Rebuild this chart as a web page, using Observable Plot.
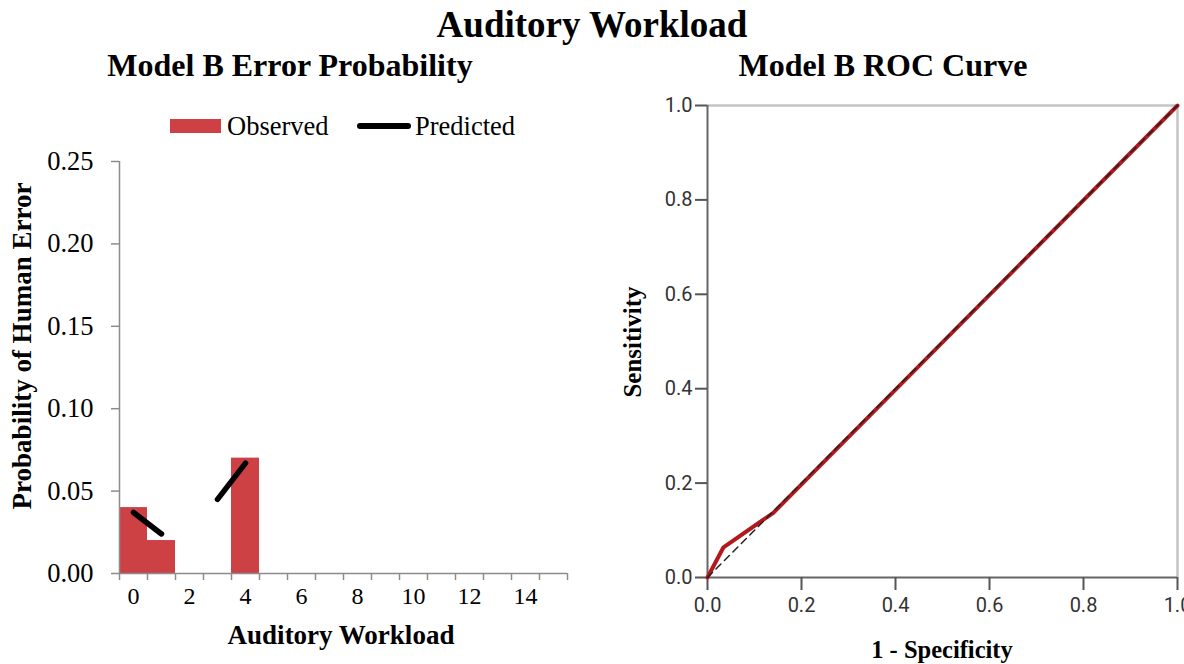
<!DOCTYPE html>
<html>
<head>
<meta charset="utf-8">
<script src="https://cdn.jsdelivr.net/npm/d3@7"></script>
<script src="https://cdn.jsdelivr.net/npm/@observablehq/plot@0.6"></script>
<style>
  html, body { margin: 0; padding: 0; background: #fff; overflow: hidden; }
  #wrap { position: relative; width: 1184px; height: 664px; font-family: "Liberation Serif", serif; color: #000; }
  .abs { position: absolute; white-space: nowrap; }
  .bold { font-weight: bold; }
</style>
</head>
<body>
<div id="wrap">
  <div class="abs bold" style="left:0;width:1184px;text-align:center;top:3px;font-size:37px;line-height:44px;">Auditory Workload</div>
  <div class="abs bold" style="left:90px;width:400px;text-align:center;top:46px;font-size:32px;line-height:38px;">Model B Error Probability</div>
  <div class="abs bold" style="left:683px;width:400px;text-align:center;top:46px;font-size:32px;line-height:38px;">Model B ROC Curve</div>

  <div class="abs" style="left:170px;top:119px;width:51px;height:14px;background:#cd4144;"></div>
  <div class="abs" style="left:227px;top:110px;font-size:26.5px;line-height:32px;">Observed</div>
  <div class="abs" style="left:357px;top:123px;width:54px;height:6px;border-radius:3px;background:#000;"></div>
  <div class="abs" style="left:415px;top:110px;font-size:26.5px;line-height:32px;">Predicted</div>

  <div id="left" class="abs" style="left:0;top:140px;"></div>
  <div id="right" class="abs" style="left:600px;top:80px;"></div>

  <div class="abs bold" style="left:141px;width:400px;text-align:center;top:619px;font-size:27px;line-height:32px;">Auditory Workload</div>
  <div class="abs bold" style="left:22px;top:346px;font-size:27px;line-height:32px;transform:translate(-50%,-50%) rotate(-90deg);">Probability of Human Error</div>

  <div class="abs bold" style="left:742px;width:400px;text-align:center;top:635px;font-size:24.5px;line-height:30px;">1 - Specificity</div>
  <div class="abs bold" style="left:633px;top:342px;font-size:25px;line-height:30px;transform:translate(-50%,-50%) rotate(-90deg);">Sensitivity</div>
</div>
<script>
// ---- Left chart data ----
const workloadCats = d3.range(0, 16);            // x categories 0..15
const xTickLabels = [0, 2, 4, 6, 8, 10, 12, 14];
const yTickValues = [0, 0.05, 0.10, 0.15, 0.20, 0.25];
const observedX = [0, 1, 4];
const observedY = [0.040, 0.020, 0.070];
const predictedX = [0, 1, 3, 4];
const predictedY = [0.037, 0.024, 0.045, 0.067];
const predictedSeg = ["a", "a", "b", "b"];

// ---- Right chart data ----
const rocFpr = [0, 0.034, 0.14, 1];
const rocTpr = [0, 0.064, 0.137, 1];
const refLine = [0, 1];
const rocTicks = [0, 0.2, 0.4, 0.6, 0.8, 1.0];

const observed = observedX.map((x, i) => ({x, y: observedY[i]}));
const predicted = predictedX.map((x, i) => ({x, y: predictedY[i], g: predictedSeg[i]}));
const roc = rocFpr.map((x, i) => ({x, y: rocTpr[i]}));
const ref = refLine.map(v => ({x: v, y: v}));

const halfTicks = [...workloadCats.map(c => c - 0.5), workloadCats[workloadCats.length - 1] + 0.5];

const left = Plot.plot({
  width: 600,
  height: 480,
  marginLeft: 119,
  marginRight: 33,
  marginTop: 21,
  marginBottom: 47,
  style: {fontFamily: "Liberation Serif", fontSize: "24px", color: "#000", background: "transparent", overflow: "visible"},
  x: {domain: [-0.5, 15.5], axis: null},
  y: {domain: [0, 0.25], axis: null},
  marks: [
    Plot.rectY(observed, {x1: d => d.x - 0.5, x2: d => d.x + 0.5, y: "y", fill: "#cd4144"}),
    Plot.ruleX([-0.5], {stroke: "#8c8c8c", strokeWidth: 1.5}),
    Plot.ruleY([0], {stroke: "#8c8c8c", strokeWidth: 1.5}),
    Plot.axisX({ticks: halfTicks, tickFormat: () => "", tickSize: 7, stroke: "#8c8c8c", strokeWidth: 1.5, label: null}),
    Plot.axisX({ticks: xTickLabels, tickSize: 0, tickPadding: 13, fill: "#000", fontSize: 24, label: null}),
    Plot.axisY({ticks: yTickValues, tickFormat: d3.format(".2f"), tickSize: 8, tickPadding: 18, stroke: "#8c8c8c", strokeWidth: 1.5, fill: "#000", fontSize: 26.5, label: null}),
    Plot.line(predicted, {x: "x", y: "y", z: "g", stroke: "#000", strokeWidth: 5.5, strokeLinecap: "round"})
  ]
});
document.getElementById("left").appendChild(left);

const right = Plot.plot({
  width: 584,
  height: 560,
  marginLeft: 107,
  marginRight: 7,
  marginTop: 25,
  marginBottom: 63,
  style: {fontFamily: "Roboto", fontSize: "20px", color: "#222", background: "transparent", overflow: "visible"},
  x: {domain: [0, 1], axis: null},
  y: {domain: [0, 1], axis: null},
  marks: [
    Plot.ruleY([1], {stroke: "#c4c4c4", strokeWidth: 2.5}),
    Plot.ruleX([1], {stroke: "#c4c4c4", strokeWidth: 2.5}),
    Plot.ruleX([0], {stroke: "#666", strokeWidth: 2}),
    Plot.ruleY([0], {stroke: "#666", strokeWidth: 2}),
    Plot.axisX({ticks: rocTicks, tickFormat: d3.format(".1f"), tickSize: 13, tickPadding: 7, stroke: "#555", strokeWidth: 2, fill: "#333", label: null}),
    Plot.axisY({ticks: rocTicks, tickFormat: d3.format(".1f"), tickSize: 12, tickPadding: 3, stroke: "#555", strokeWidth: 2, fill: "#333", label: null}),
    Plot.line(roc, {x: "x", y: "y", stroke: "#b3191c", strokeWidth: 4}),
    Plot.line(ref, {x: "x", y: "y", stroke: "#222", strokeWidth: 1.5, strokeDasharray: "7,5"})
  ]
});
document.getElementById("right").appendChild(right);
</script>
</body>
</html>
